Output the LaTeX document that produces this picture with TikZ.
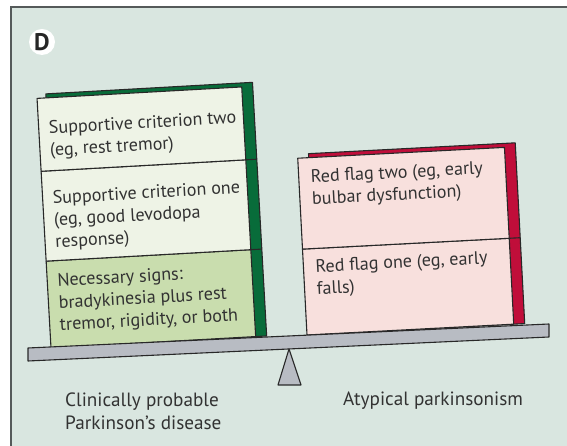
\documentclass[tikz,border=0pt]{standalone}
\usepackage{fontspec}
\setmainfont{PT Sans}
\definecolor{bgmint}{RGB}{217,230,224}
\definecolor{framegray}{RGB}{85,90,90}
\definecolor{beamgray}{RGB}{184,188,195}
\definecolor{edgedark}{RGB}{40,40,40}
\definecolor{forest}{RGB}{8,108,58}
\definecolor{palegreen}{RGB}{238,243,230}
\definecolor{sage}{RGB}{201,221,174}
\definecolor{crimson}{RGB}{192,14,58}
\definecolor{blush}{RGB}{248,224,221}
\definecolor{inktext}{RGB}{50,50,50}
\tikzset{
  outline/.style={draw=edgedark, line width=1.1pt, line join=round},
  boxtext/.style={inner sep=0pt, anchor=north west, align=left, text=inktext,
    font=\fontsize{18.1}{22}\selectfont},
  caption/.style={inner sep=0pt, align=left, text=inktext,
    font=\fontsize{19.2}{23.5}\selectfont},
}
\begin{document}
\begin{tikzpicture}[x=1pt, y=1pt]
\useasboundingbox (0,0) rectangle (567,446);
% panel background and frame
\fill[bgmint] (11,0) rectangle (567,439);
\draw[framegray, line width=1.6pt] (11,0) -- (11,439) -- (567,439);

% panel letter
\node[circle, fill=white, minimum size=26pt, inner sep=0pt,
      font=\fontsize{24}{24}\selectfont\bfseries, text=black!85] (panel) at (42,404) {D};

% left stack: supportive criteria
\begin{scope}[shift={(51,98)}, rotate=3.2]
  \draw[outline, fill=forest] (9,0) rectangle (216,254);
  \draw[outline] (205,87) -- (216,87) (205,177) -- (216,177);
  \draw[outline, fill=sage] (0,0) rectangle (205,87);
  \draw[outline, fill=palegreen] (0,87) rectangle (205,177);
  \draw[outline, fill=palegreen] (0,177) rectangle (205,250);
  \node[boxtext, transform shape] (suptwo) at (10,227)
    {Supportive criterion two\\(eg, rest tremor)};
  \node[boxtext, transform shape] (supone) at (10,157)
    {Supportive criterion one\\(eg, good levodopa\\response)};
  \node[boxtext, transform shape] (necessary) at (10,74)
    {Necessary signs:\\bradykinesia plus rest\\tremor, rigidity, or both};
\end{scope}

% right stack: red flags
\begin{scope}[shift={(307,111)}, rotate=3]
  \draw[outline, fill=crimson] (11,0) rectangle (218,181);
  \draw[outline] (207,86) -- (218,86);
  \draw[outline, fill=blush] (0,0) rectangle (207,86);
  \draw[outline, fill=blush] (0,86) rectangle (207,177);
  \node[boxtext, transform shape] (flagtwo) at (12,165)
    {Red flag two (eg, early\\bulbar dysfunction)};
  \node[boxtext, transform shape] (flagone) at (12,75)
    {Red flag one (eg, early\\falls)};
\end{scope}

% balance beam and pivot
\draw[outline, fill=beamgray] (28,85) -- (549,109) -- (549,122) -- (28,98) -- cycle;
\draw[outline, fill=beamgray] (289,97) -- (301,61) -- (278,61) -- cycle;

% outcome labels
\node[caption, anchor=north west] (probable) at (65,53.5)
  {Clinically probable\\Parkinson’s disease};
\node[caption, anchor=base west] (atypical) at (343,40) {Atypical parkinsonism};
\end{tikzpicture}
\end{document}
